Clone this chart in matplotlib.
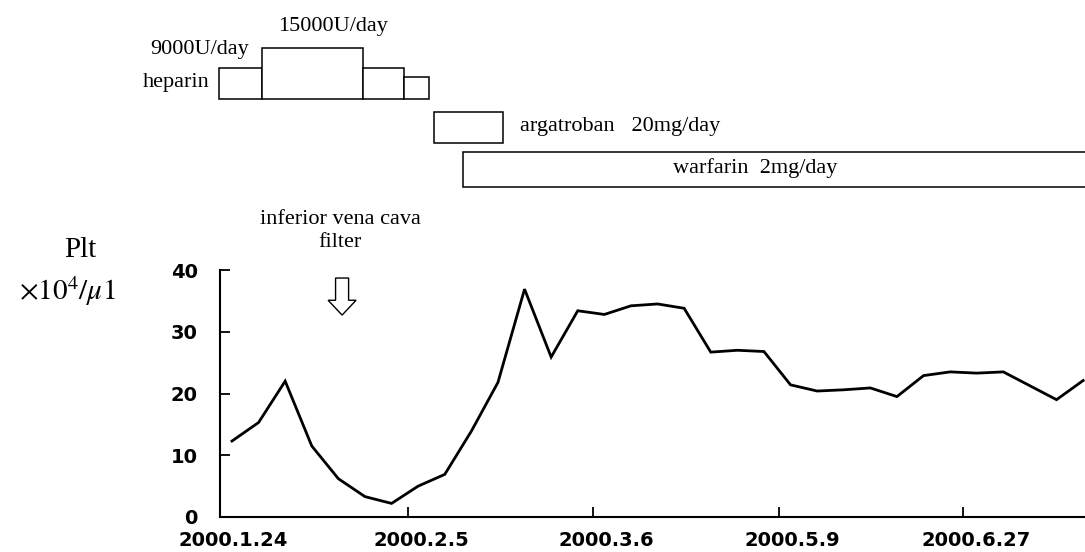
import matplotlib
matplotlib.use("Agg")
import matplotlib.pyplot as plt
from matplotlib.patches import FancyArrow
from matplotlib.transforms import ScaledTranslation

# platelet counts (x10^4/ul), sample order along the time axis
sample_pos = list(range(30)) + [31, 32]
plt_values = [12.3, 15.3, 22.0, 11.5, 6.2, 3.3, 2.2, 5.0, 6.9, 13.9, 21.8,
              36.9, 25.9, 33.4, 32.8, 34.2, 34.5, 33.8, 26.7, 27.0, 26.8,
              21.4, 20.4, 20.6, 20.9, 19.5, 22.9, 23.5, 23.3, 23.5, 19.0, 22.1]

# x tick labels and where they sit
tick_pos = [-0.45, 6.62, 13.57, 20.56, 27.48]
tick_labels = ['2000.1.24', '2000.2.5', '2000.3.6', '2000.5.9', '2000.6.27']

# drug schedules (same x scale)
heparin_edges = [-0.49, 1.13, 4.92, 6.47, 7.41]
heparin_dose = [9000, 15000, 9000, 6500]
argatroban_span = [7.59, 10.18]
warfarin_span = [8.67, 33.0]

W, H = 1085, 552
fig = plt.figure(figsize=(W / 100, H / 100), dpi=100)
serif = 'Liberation Serif'

def fx(px):
    return px / W

def fy(py):
    return 1 - py / H

# main plot
ax = fig.add_axes([fx(220), fy(517), fx(1085) - fx(220), fy(270) - fy(517)])
ax.plot(sample_pos, plt_values, color='black', lw=2.0, solid_joinstyle='miter')
ax.set_xlim(-0.45, 32.07)
ax.set_ylim(0, 40)
ax.spines['top'].set_visible(False)
ax.spines['right'].set_visible(False)
ax.spines['left'].set_linewidth(1.5)
ax.spines['bottom'].set_linewidth(1.5)
ax.set_yticks([0, 10, 20, 30, 40])
ax.set_xticks(tick_pos)
ax.set_xticklabels(tick_labels)
ax.tick_params(axis='both', direction='in', length=7, width=1.3,
               labelsize=14)
ax.tick_params(axis='y', pad=16)
ax.tick_params(axis='x', pad=10)
for lab in ax.get_xticklabels() + ax.get_yticklabels():
    lab.set_fontweight('bold')
    lab.set_fontfamily('DejaVu Sans')
for lab in ax.get_xticklabels():
    lab.set_transform(lab.get_transform() + ScaledTranslation(0.13, 0, fig.dpi_scale_trans))

# hollow arrow for the filter
arr = FancyArrow(4.14, 38.7, 0, -6.0, width=0.49, head_width=1.05,
                 head_length=2.4, length_includes_head=True,
                 facecolor='white', edgecolor='black', lw=1.0, clip_on=False)
ax.add_patch(arr)

# schedule panel on top, sharing the x scale
axt = fig.add_axes([fx(220), fy(200), fx(1085) - fx(220), fy(0) - fy(200)])
axt.set_xlim(ax.get_xlim())
axt.set_ylim(0, 200)
axt.axis('off')

base = 101
scale = 51 / 15000
for i in range(len(heparin_dose)):
    axt.bar(heparin_edges[i], heparin_dose[i] * scale, bottom=base,
            width=heparin_edges[i + 1] - heparin_edges[i], align='edge',
            facecolor='white', edgecolor='black', lw=1.1, clip_on=False)
axt.barh(72.5, argatroban_span[1] - argatroban_span[0], height=31,
         left=argatroban_span[0], facecolor='white', edgecolor='black', lw=1.1)
axt.barh(30.5, warfarin_span[1] - warfarin_span[0], height=35.5,
         left=warfarin_span[0], facecolor='white', edgecolor='black', lw=1.1)

fs = 16
fig.text(fx(333), fy(26), '15000U/day', family=serif, fontsize=fs, ha='center', va='center')
fig.text(fx(200), fy(49), '9000U/day', family=serif, fontsize=fs, ha='center', va='center')
fig.text(fx(210), fy(83), 'heparin', family=serif, fontsize=fs, ha='right', va='center')
fig.text(fx(520), fy(127), 'argatroban   20mg/day', family=serif, fontsize=fs, ha='left', va='center')
fig.text(fx(755), fy(168), 'warfarin  2mg/day', family=serif, fontsize=fs, ha='center', va='center')
fig.text(fx(340), fy(231), 'inferior vena cava\nfilter', family=serif, fontsize=fs,
         ha='center', va='center', multialignment='center', linespacing=1.3)

plt.rcParams['mathtext.fontset'] = 'stix'
fig.text(fx(80), fy(250), 'Plt', family=serif, fontsize=21, ha='center', va='center')
fig.text(fx(67), fy(291), r'$\times\mathrm{10}^{4}/\mu\mathrm{1}$', fontsize=21,
         ha='center', va='center')

fig.savefig('out.png', dpi=100)
